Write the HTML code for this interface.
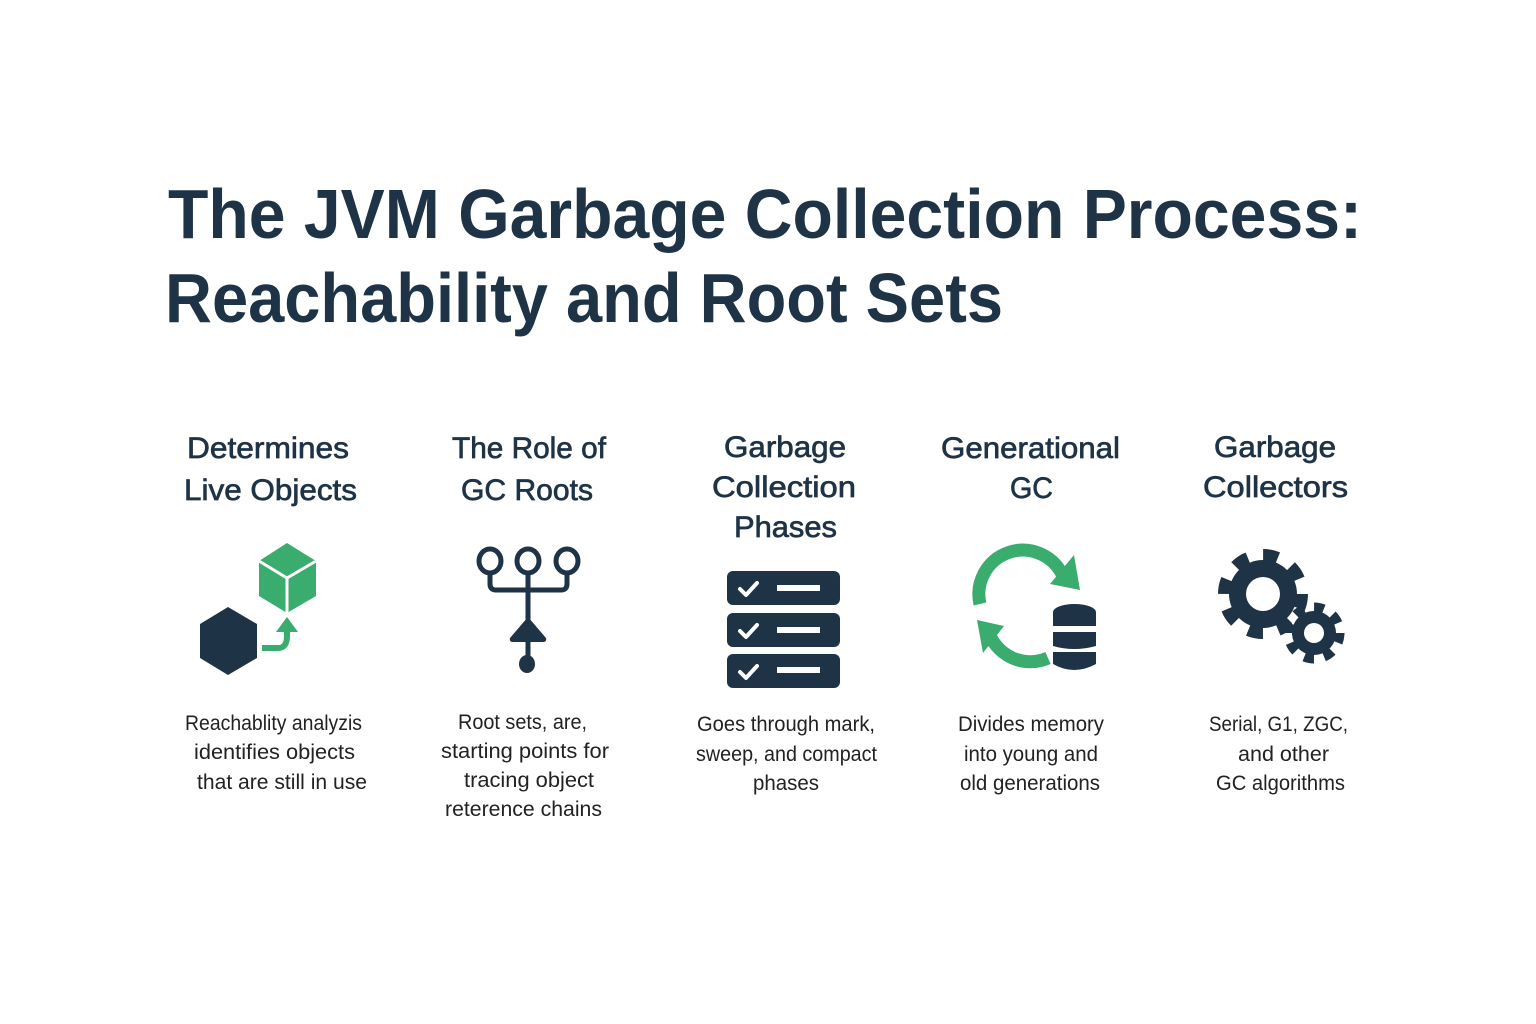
<!DOCTYPE html>
<html><head><meta charset="utf-8"><style>html,body{margin:0;padding:0;background:#fff}svg{display:block}</style></head>
<body>
<svg width="1536" height="1024" viewBox="0 0 1536 1024" xmlns="http://www.w3.org/2000/svg" font-family="Liberation Sans, sans-serif">
<rect width="1536" height="1024" fill="#fff"/>
<g fill="#1f3347" font-weight="bold" font-size="70">
<text x="168" y="238" textLength="1194" lengthAdjust="spacingAndGlyphs">The JVM Garbage Collection Process:</text>
<text x="165" y="322" textLength="838" lengthAdjust="spacingAndGlyphs">Reachability and Root Sets</text>
</g>
<g fill="#1f3347" stroke="#1f3347" stroke-width="0.7" font-size="30">
<text x="187" y="458" textLength="162" lengthAdjust="spacingAndGlyphs">Determines</text>
<text x="184" y="500" textLength="173" lengthAdjust="spacingAndGlyphs">Live Objects</text>
<text x="452" y="458" textLength="154" lengthAdjust="spacingAndGlyphs">The Role of</text>
<text x="461" y="500" textLength="132" lengthAdjust="spacingAndGlyphs">GC Roots</text>
<text x="724" y="457" textLength="122" lengthAdjust="spacingAndGlyphs">Garbage</text>
<text x="712" y="497" textLength="144" lengthAdjust="spacingAndGlyphs">Collection</text>
<text x="734" y="537" textLength="103" lengthAdjust="spacingAndGlyphs">Phases</text>
<text x="941" y="458" textLength="179" lengthAdjust="spacingAndGlyphs">Generational</text>
<text x="1010" y="498" textLength="43" lengthAdjust="spacingAndGlyphs">GC</text>
<text x="1214" y="457" textLength="122" lengthAdjust="spacingAndGlyphs">Garbage</text>
<text x="1203" y="497" textLength="145" lengthAdjust="spacingAndGlyphs">Collectors</text>
</g>
<g fill="#222" font-size="21">
<text x="185" y="730" textLength="177" lengthAdjust="spacingAndGlyphs">Reachablity analyzis</text>
<text x="194" y="759" textLength="161" lengthAdjust="spacingAndGlyphs">identifies objects</text>
<text x="197" y="789" textLength="170" lengthAdjust="spacingAndGlyphs">that are still in use</text>
<text x="458" y="729" textLength="129" lengthAdjust="spacingAndGlyphs">Root sets, are,</text>
<text x="441" y="758" textLength="168" lengthAdjust="spacingAndGlyphs">starting points for</text>
<text x="464" y="787" textLength="130" lengthAdjust="spacingAndGlyphs">tracing object</text>
<text x="445" y="816" textLength="157" lengthAdjust="spacingAndGlyphs">reterence chains</text>
<text x="697" y="731" textLength="178" lengthAdjust="spacingAndGlyphs">Goes through mark,</text>
<text x="696" y="761" textLength="181" lengthAdjust="spacingAndGlyphs">sweep, and compact</text>
<text x="753" y="790" textLength="66" lengthAdjust="spacingAndGlyphs">phases</text>
<text x="958" y="731" textLength="146" lengthAdjust="spacingAndGlyphs">Divides memory</text>
<text x="964" y="761" textLength="134" lengthAdjust="spacingAndGlyphs">into young and</text>
<text x="960" y="790" textLength="140" lengthAdjust="spacingAndGlyphs">old generations</text>
<text x="1209" y="731" textLength="139" lengthAdjust="spacingAndGlyphs">Serial, G1, ZGC,</text>
<text x="1238" y="761" textLength="91" lengthAdjust="spacingAndGlyphs">and other</text>
<text x="1216" y="790" textLength="129" lengthAdjust="spacingAndGlyphs">GC algorithms</text>
</g>
<!-- icon 1 -->
<polygon points="228,607 257,624 257,658 228,675 200,658 200,624" fill="#1f3347"/>
<polygon points="287,543 316,561 316,596 287,613 259,596 259,561" fill="#3aad6e"/>
<polyline points="259,561 287,578 316,561" fill="none" stroke="#fff" stroke-width="3"/>
<line x1="287" y1="578" x2="287" y2="613" stroke="#fff" stroke-width="3"/>
<path d="M262,648 H278 Q287,648 287,636 V628" fill="none" stroke="#3aad6e" stroke-width="6"/>
<polygon points="287,617 276,632 298,632" fill="#3aad6e"/>
<!-- icon 2 -->
<g fill="none" stroke="#1f3347" stroke-width="5" stroke-linecap="round">
<ellipse cx="490" cy="561" rx="11" ry="12"/>
<ellipse cx="528" cy="561" rx="11" ry="12"/>
<ellipse cx="567" cy="561" rx="11" ry="12"/>
<path d="M490,573 V584 Q490,590 496,590 H561 Q567,590 567,584 V573"/>
<path d="M528,573 V660"/>
</g>
<path d="M528,617 L546,638 Q547,642 543,642 H513 Q509,642 510,638 Z" fill="#1f3347"/>
<ellipse cx="527" cy="664" rx="8" ry="9" fill="#1f3347"/>
<!-- icon 3 -->
<g fill="#1f3347">
<rect x="727" y="571" width="113" height="34" rx="6"/>
<rect x="727" y="613" width="113" height="34" rx="6"/>
<rect x="727" y="654" width="113" height="34" rx="6"/>
</g>
<g fill="none" stroke="#fff" stroke-width="4" stroke-linecap="round" stroke-linejoin="round">
<polyline points="740,589 746,595 757,583"/>
<polyline points="740,631 746,637 757,625"/>
<polyline points="740,672 746,678 757,666"/>
</g>
<g fill="#fff">
<rect x="777" y="585" width="43" height="6"/>
<rect x="777" y="627" width="43" height="6"/>
<rect x="777" y="667" width="43" height="6"/>
</g>
<!-- icon 4 -->
<g fill="none" stroke="#3aad6e" stroke-width="13">
<path d="M980,604 A44,44 0 0 1 1062,574"/>
<path d="M1048,658 A44,44 0 0 1 988,630"/>
</g>
<polygon points="1080,590 1050,584 1074,555" fill="#3aad6e"/>
<polygon points="977,620 1004,626 983,653" fill="#3aad6e"/>
<g fill="#1f3347">
<rect x="1053" y="612" width="43" height="14"/>
<ellipse cx="1074.5" cy="612" rx="21.5" ry="8"/>
<path d="M1053,632 H1096 V646 Q1074,652 1053,646 Z"/>
<path d="M1053,652 H1096 V664 Q1074,676 1053,664 Z"/>
</g>
<!-- icon 5 -->
<circle cx="1263" cy="594" r="34" fill="#1f3347"/>
<circle cx="1263" cy="594" r="39" fill="none" stroke="#1f3347" stroke-width="12" stroke-dasharray="15 15.6"/>
<circle cx="1263" cy="594" r="17" fill="#fff"/>
<circle cx="1314" cy="633" r="24" fill="#fff"/>
<circle cx="1314" cy="633" r="22" fill="#1f3347"/>
<circle cx="1314" cy="633" r="26" fill="none" stroke="#1f3347" stroke-width="9" stroke-dasharray="10 10.4"/>
<circle cx="1314" cy="633" r="10" fill="#fff"/>
</svg>
</body></html>
